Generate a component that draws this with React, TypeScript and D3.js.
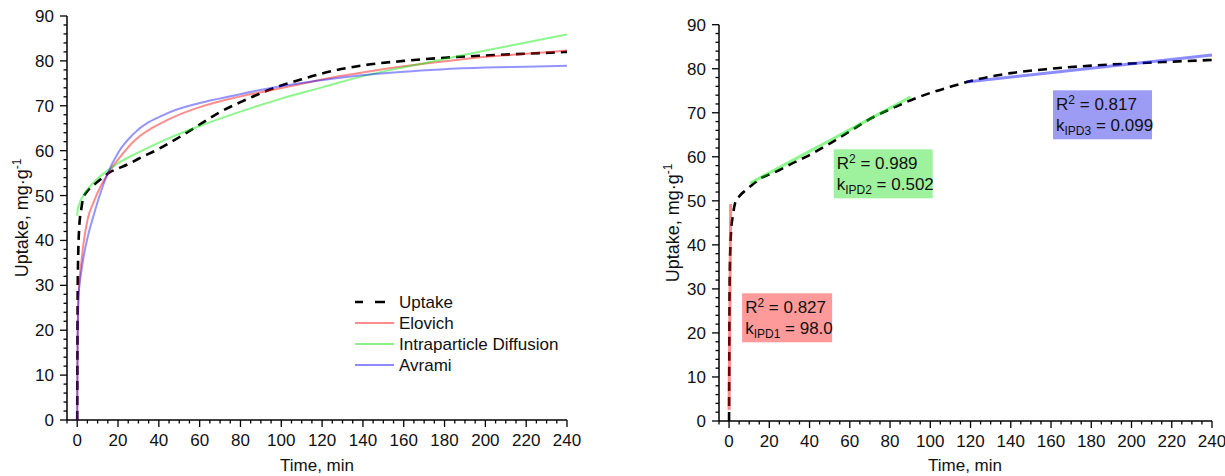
import React from "react";
import * as d3 from "d3";

// ---------- data ----------
const uptakeT = [0, 0.3, 1, 2, 3, 5, 8, 12, 16, 20, 25, 30, 40, 50, 60, 70, 80, 90, 100, 110, 120, 140, 160, 180, 200, 220, 240];
const uptakeV = [0, 32, 43, 47, 49.5, 51, 52.3, 53.8, 55.2, 56, 57, 58.2, 60.4, 63, 65.8, 68.6, 70.8, 72.8, 74.5, 75.9, 77.2, 79, 80, 80.7, 81.2, 81.6, 82];

const elovichT = [0, 0.1, 0.3, 0.6, 1, 2, 3, 5, 8, 12, 16, 20, 28, 44, 60, 77, 93, 109, 125, 142, 160, 178, 200, 220, 240];
const elovichV = [0, 12, 21, 27, 30.5, 35, 39, 44.5, 48.5, 52.5, 55.5, 58, 62.2, 66.8, 69.7, 71.8, 73.3, 74.8, 76.3, 77.6, 78.8, 79.8, 80.9, 81.6, 82.3];

const ipdT = [0, 0.25, 1, 2, 4, 7, 10, 15, 20, 30, 45, 60, 80, 100, 120, 140, 160, 180, 200, 220, 240];
const ipdV = [45.5, 46.8, 48.1, 49.2, 50.7, 52.4, 53.8, 55.6, 57.2, 59.6, 62.8, 65.5, 68.7, 71.6, 74.1, 76.6, 78.6, 80.4, 82.3, 84.1, 85.9];

const avramiT = [0, 0.2, 0.5, 1, 2, 3, 5, 8, 11, 15, 20, 28, 44, 60, 77, 93, 109, 125, 142, 160, 178, 200, 220, 240];
const avramiV = [0, 18, 26, 29.5, 33, 36, 40.5, 45.5, 50, 55, 59.5, 63.9, 68.3, 70.6, 72.3, 73.8, 75, 76, 76.9, 77.6, 78.1, 78.5, 78.7, 78.9];

const ipd1T = [0, 0.8];
const ipd1V = [2.5, 49.3];
const ipd2T = [10.4, 30, 50, 70, 90.2];
const ipd2V = [54.0, 58.8, 63.7, 68.6, 73.6];
const ipd3T = [118, 240];
const ipd3V = [77.0, 83.1];

const xTickLabels = [0, 20, 40, 60, 80, 100, 120, 140, 160, 180, 200, 220, 240];
const yTickLabels = [0, 10, 20, 30, 40, 50, 60, 70, 80, 90];

const legendLabels = ["Uptake", "Elovich", "Intraparticle Diffusion", "Avrami"];
const legendColors = ["#000", "#ff0000", "#00e000", "#0000ff"];

const annR2 = ["0.827", "0.989", "0.817"];
const annSub = ["IPD1", "IPD2", "IPD3"];
const annK = ["98.0", "0.502", "0.099"];
const annT = [6.5, 52, 161];
const annV = [29, 61.7, 75.1];
const annFill = ["#ff9a9a", "#9ef29e", "#9c9cf5"];

const FONT = "'Liberation Sans', Arial, Helvetica, sans-serif";

type Scale = d3.ScaleLinear<number, number>;

function zip(t: number[], v: number[]): [number, number][] {
  return t.map((d, i) => [d, v[i]]);
}

function Axes({ x, y, cx, labelX }: { x: Scale; y: Scale; cx: number; labelX: number }) {
  const [x0, x1] = x.range();
  const [y0, y1] = y.range();
  const minorX = d3.range(-5, 241, 5);
  const minorY = d3.range(0, 91, 2);
  return (
    <g fontFamily={FONT} fill="#111">
      <line x1={x0} x2={x1} y1={y0} y2={y0} stroke="#000" strokeWidth={1.5} />
      <line x1={x0} x2={x0} y1={y0} y2={y1} stroke="#000" strokeWidth={1.5} />
      {minorX.map((t) => (
        <line key={"mx" + t} x1={x(t)} x2={x(t)} y1={y0} y2={y0 + (t % 20 === 0 ? 7 : 3.5)} stroke="#000" strokeWidth={1.3} />
      ))}
      {minorY.map((v) => (
        <line key={"my" + v} x1={x0} x2={x0 - (v % 10 === 0 ? 7 : 3.5)} y1={y(v)} y2={y(v)} stroke="#000" strokeWidth={1.3} />
      ))}
      {xTickLabels.map((t) => (
        <text key={"xl" + t} x={x(t)} y={y0 + 26} textAnchor="middle" fontSize={17}>
          {t}
        </text>
      ))}
      {yTickLabels.map((v) => (
        <text key={"yl" + v} x={x0 - 13} y={y(v) + 6} textAnchor="end" fontSize={17}>
          {v}
        </text>
      ))}
      <text x={cx} y={471} textAnchor="middle" fontSize={17}>
        Time, min
      </text>
      <text transform={`translate(${labelX},${(y0 + y1) / 2}) rotate(-90)`} textAnchor="middle" fontSize={18}>
        Uptake, mg·g<tspan dy={-7} fontSize={12}>-1</tspan>
      </text>
    </g>
  );
}

export default function App() {
  const xL = d3.scaleLinear().domain([-5, 240]).range([67, 567]);
  const yL = d3.scaleLinear().domain([0, 90]).range([420, 16]);
  const xR = d3.scaleLinear().domain([-5, 240]).range([719, 1212]);
  const yR = d3.scaleLinear().domain([0, 90]).range([421, 24.7]);

  const lineL = d3.line<[number, number]>().x((d) => xL(d[0])).y((d) => yL(d[1])).curve(d3.curveMonotoneX);
  const lineR = d3.line<[number, number]>().x((d) => xR(d[0])).y((d) => yR(d[1])).curve(d3.curveMonotoneX);

  const legendX = 355;
  const legendY = 302;
  const legendDy = 21;

  return (
    <svg width={1225} height={476} style={{ position: "absolute", left: 0, top: 0, background: "#fff" }}>
      <rect width={1225} height={476} fill="#fff" />
      {/* left chart */}
      <Axes x={xL} y={yL} cx={317} labelX={28} />
      <path d={lineL(zip(uptakeT, uptakeV)) || ""} fill="none" stroke="#000" strokeWidth={2.6} strokeDasharray="9,6" />
      <path d={lineL(zip(elovichT, elovichV)) || ""} fill="none" stroke="#ff0000" strokeOpacity={0.45} strokeWidth={2} />
      <path d={lineL(zip(ipdT, ipdV)) || ""} fill="none" stroke="#00ee00" strokeOpacity={0.45} strokeWidth={2} />
      <path d={lineL(zip(avramiT, avramiV)) || ""} fill="none" stroke="#0000ff" strokeOpacity={0.42} strokeWidth={2} />
      <g fontFamily={FONT} fontSize={17} fill="#111">
        {legendLabels.map((l, i) => (
          <g key={l}>
            <line
              x1={legendX}
              x2={legendX + 39}
              y1={legendY + i * legendDy}
              y2={legendY + i * legendDy}
              stroke={legendColors[i]}
              strokeOpacity={i === 0 ? 1 : 0.45}
              strokeWidth={i === 0 ? 2.6 : 2}
              strokeDasharray={i === 0 ? "8,12,10,20" : undefined}
            />
            <text x={legendX + 44} y={legendY + i * legendDy + 6}>
              {l}
            </text>
          </g>
        ))}
      </g>

      {/* right chart */}
      <Axes x={xR} y={yR} cx={965} labelX={679} />
      <path d={lineR(zip(uptakeT, uptakeV)) || ""} fill="none" stroke="#000" strokeWidth={2.6} strokeDasharray="9,6" />
      <path d={lineR(zip(ipd1T, ipd1V)) || ""} fill="none" stroke="#ff0000" strokeOpacity={0.45} strokeWidth={3} />
      <path d={lineR(zip(ipd2T, ipd2V)) || ""} fill="none" stroke="#00ee00" strokeOpacity={0.45} strokeWidth={3} />
      <path d={lineR(zip(ipd3T, ipd3V)) || ""} fill="none" stroke="#0000ff" strokeOpacity={0.45} strokeWidth={3} />
      <g fontFamily={FONT} fontSize={17} fill="#111">
        {annR2.map((r, i) => {
          const bx = xR(annT[i]);
          const by = yR(annV[i]);
          return (
            <g key={"ann" + i}>
              <rect x={bx} y={by} width={i === 0 ? 90 : 99} height={49} fill={annFill[i]} />
              <text x={bx + 3} y={by + 20}>
                R<tspan dy={-6} fontSize={12}>2</tspan>
                <tspan dy={6}> = {r}</tspan>
              </text>
              <text x={bx + 3} y={by + 41}>
                k<tspan dy={4} fontSize={12}>{annSub[i]}</tspan>
                <tspan dy={-4}> = {annK[i]}</tspan>
              </text>
            </g>
          );
        })}
      </g>
    </svg>
  );
}
